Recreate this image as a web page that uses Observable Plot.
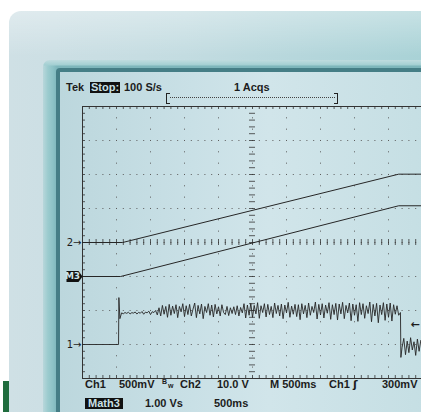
<!DOCTYPE html>
<html><head><meta charset="utf-8">
<script src="https://cdn.jsdelivr.net/npm/d3@7"></script>
<script src="https://cdn.jsdelivr.net/npm/@observablehq/plot@0.6"></script>
<style>
html,body{margin:0;padding:0;background:#fff;}
#wrap{position:relative;width:421px;height:412px;overflow:hidden;background:#fff;font-family:"Liberation Sans",Arial,sans-serif;}
.abs{position:absolute;}
#bezel{left:9px;top:11px;width:440px;height:420px;border-radius:12px 0 0 0;background:linear-gradient(180deg,rgba(255,255,255,.35) 0,rgba(255,255,255,0) 45px),linear-gradient(90deg,#cfe0e5 0,#c3dce1 40%,#b4d6db 70%,#a6d1d5 100%);}
#frame{left:43px;top:60px;width:400px;height:370px;border-radius:7px 0 0 0;background:linear-gradient(180deg,#bfdcdf 0,#a3cfd2 5px,rgba(0,0,0,0) 6px),linear-gradient(90deg,#b8d7db 0,#9bcbce 5px,#8cc2c6 10px,#7db6bb 14px);}
#edge{left:56px;top:68px;width:400px;height:360px;border-radius:4px 0 0 0;background:#457e86;}
#screen{left:60px;top:72px;width:380px;height:360px;background:linear-gradient(90deg,#bcd7dd 0,#c9e0e6 35%,#d1e5ea 55%,#c4dee3 100%);}
#green{left:3px;top:381px;width:6px;height:31px;background:#1f6c3d;}
#plot{position:absolute;left:0;top:0;}
.t{position:absolute;font-weight:bold;font-size:11px;line-height:11px;color:#1c1c1c;white-space:pre;}
.inv{background:#111;color:#c9e0e5;padding:0 1px;}
.brk{position:absolute;top:93px;width:3px;height:9px;border-top:1px solid #222;border-bottom:1px solid #222;}
</style>
</head>
<body>
<div id="wrap">
  <div id="bezel" class="abs"></div>
  <div id="frame" class="abs"></div>
  <div id="edge" class="abs"></div>
  <div id="screen" class="abs"></div>
  <div id="green" class="abs"></div>
  <div id="plot"></div>
  <!-- readouts -->
  <div class="t" style="left:66px;top:82px">Tek</div>
  <div class="t inv" style="left:90px;top:82px">Stop:</div>
  <div class="t" style="left:124px;top:82px">100 S/s</div>
  <div class="t" style="left:234px;top:82px">1 Acqs</div>
  <div class="brk" style="left:166px;border-left:1.5px solid #222"></div>
  <div class="abs" style="left:170px;top:97px;width:165px;border-top:1px dotted #444"></div>
  <div class="brk" style="left:334px;border-right:1.5px solid #222"></div>

  <div class="t" style="left:85px;top:379px">Ch1</div>
  <div class="t" style="left:119px;top:379px">500mV</div>
  <div class="t" style="left:162px;top:378px;font-size:7px;line-height:7px">B</div>
  <div class="t" style="left:168px;top:382px;font-size:7px;line-height:7px">w</div>
  <div class="t" style="left:180px;top:379px">Ch2</div>
  <div class="t" style="left:217px;top:379px">10.0 V</div>
  <div class="t" style="left:270px;top:379px">M 500ms</div>
  <div class="t" style="left:329px;top:379px">Ch1</div>
  <div class="t" style="left:353px;top:379px;font-family:'DejaVu Sans'">ʃ</div>
  <div class="t" style="left:382px;top:379px">300mV</div>

  <div class="t inv" style="left:85px;top:398px;padding:0 3px">Math3</div>
  <div class="t" style="left:145px;top:398px">1.00 Vs</div>
  <div class="t" style="left:214px;top:398px">500ms</div>
</div>
<script>
// ---- scope settings ----
const secPerDiv = 0.5;          // M 500ms
const ch1VoltsPerDiv = 0.5;     // Ch1 500mV
const ch2VoltsPerDiv = 10;      // Ch2 10.0 V
const m3VsPerDiv = 1;           // Math3 1.00 Vs
const ch1Offset = -3, ch2Offset = 0, m3Offset = -1; // marker positions (divisions)
const ch1TriggerMv = 300;

// ---- Ch2 (upper ramp) ----
const ch2Time = [0, 0.59, 4.65, 5.0];
const ch2Volts = [0, 0, 20.1, 20.1];

// ---- Math3 (lower ramp) ----
const m3Time = [0, 0.56, 4.65, 5.0];
const m3Vs = [0, 0, 2.08, 2.08];

// ---- Ch1 (noisy step) ----
const ch1StepTime = [0, 0.53, 0.535, 0.55];
const ch1StepMv = [0, 0, 690, 380];
const ch1HighStart = 0.575, ch1SampleStep = 0.025;
const ch1HighMv = [
  465, 452, 470, 458, 474, 450, 468, 462, 478, 448, 472, 460, 485, 445, 476, 466, 490, 440, 482, 470, 500, 435,
  540, 420, 575, 445, 560, 400, 590, 430, 565, 455,
  585, 395, 560, 480, 600, 410, 570, 440, 590, 420,
  520, 610, 395, 575, 450, 595, 380, 560, 470, 600,
  430, 580, 405, 590, 450, 555, 420, 585, 470, 440,
  560, 425, 540, 455, 555, 440, 570, 420, 545, 465,
  600, 390, 580, 430, 605, 400, 575, 450, 615, 385,
  570, 470, 600, 405, 590, 440, 560, 395, 610, 455,
  575, 420, 595, 380, 580, 465, 620, 400, 565, 445,
  590, 410, 585, 365, 600, 450, 575, 395, 610, 430,
  560, 470, 625, 375, 590, 435, 600, 390, 580, 460,
  615, 370, 585, 440, 605, 360, 595, 450, 620, 380,
  575, 465, 610, 350, 595, 430, 585, 340, 615, 440,
  600, 385, 570, 455, 625, 335, 590, 420, 605, 320,
  580, 440, 615, 355, 595, 400, 610, 345, 585, 445, 570, 430
];
const ch1DropTime = [4.676, 4.682];
const ch1DropMv = [470, -190];
const ch1LowStart = 4.70;
const ch1LowMv = [-40, 90, -150, 50, -120, 100, -80, 40, -160, 80, -100, 60];

// ---- build tables ----
const ch2Data = ch2Time.map((t, i) => ({t, div: ch2Offset + ch2Volts[i] / ch2VoltsPerDiv}));
const m3Data = m3Time.map((t, i) => ({t, div: m3Offset + m3Vs[i] / m3VsPerDiv}));
const ch1Data = [
  ...ch1StepTime.map((t, i) => ({t, mv: ch1StepMv[i]})),
  ...ch1HighMv.map((mv, i) => ({t: ch1HighStart + i * ch1SampleStep, mv})),
  ...ch1DropTime.map((t, i) => ({t, mv: ch1DropMv[i]})),
  ...ch1LowMv.map((mv, i) => ({t: ch1LowStart + i * ch1SampleStep, mv}))
].map(d => ({t: d.t, div: ch1Offset + d.mv / 1000 / ch1VoltsPerDiv}));

// ---- screen geometry (graticule: 10 x 8 divisions, 34 px per division) ----
const W = 421, H = 412, pxPerDiv = 34, leftPx = 82, centerPx = 242;
const xDomain = [-leftPx / pxPerDiv * secPerDiv, (W - leftPx) / pxPerDiv * secPerDiv];
const yDomain = [(centerPx - H) / pxPerDiv, centerPx / pxPerDiv];

const fullT = 10 * secPerDiv;
const majorT = d3.range(1, 10).map(i => i * secPerDiv);
const majorY = [-3, -2, -1, 0, 1, 2, 3];
const minorT = d3.range(0, 51).map(i => i * secPerDiv / 5);
const minorY = d3.range(-20, 21).map(i => i / 5);
const tickDiv = 3 / pxPerDiv;
const tickT = tickDiv * secPerDiv;
const centerT = 5 * secPerDiv;
const gridInk = "#333", dotInk = "#5c5c5c", traceInk = "#262626";

const tagSymbol = {
  draw(ctx) {
    ctx.moveTo(-16, -5.5); ctx.lineTo(-4, -5.5); ctx.lineTo(0, 0);
    ctx.lineTo(-4, 5.5); ctx.lineTo(-16, 5.5); ctx.closePath();
  }
};

const chart = Plot.plot({
  width: W, height: H, margin: 0,
  x: {domain: xDomain, axis: null},
  y: {domain: yDomain, axis: null},
  style: {background: "transparent", overflow: "visible", fontFamily: "DejaVu Sans"},
  marks: [
    // dotted grid
    Plot.ruleX(majorT, {y1: 4, y2: -4, stroke: dotInk, strokeWidth: 1, strokeDasharray: "1,10.33"}),
    Plot.ruleY(majorY, {x1: 0, x2: fullT, stroke: dotInk, strokeWidth: 1, strokeDasharray: "1,5.8"}),
    // solid frame
    Plot.ruleX([0], {y1: 4, y2: -4, stroke: gridInk, strokeWidth: 1}),
    Plot.ruleY([4, -4], {x1: 0, x2: fullT, stroke: gridInk, strokeWidth: 1}),
    // minor ticks
    Plot.ruleX(minorT, {y1: 4, y2: 4 - tickDiv, stroke: gridInk, strokeWidth: 0.8}),
    Plot.ruleX(minorT, {y1: -4, y2: -4 + tickDiv, stroke: gridInk, strokeWidth: 0.8}),
    Plot.ruleX(minorT, {y1: -tickDiv, y2: tickDiv, stroke: gridInk, strokeWidth: 0.8}),
    Plot.ruleY(minorY, {x1: 0, x2: tickT, stroke: gridInk, strokeWidth: 0.8}),
    Plot.ruleY(minorY, {x1: centerT - tickT, x2: centerT + tickT, stroke: gridInk, strokeWidth: 0.8}),
    // traces
    Plot.line(ch2Data, {x: "t", y: "div", stroke: traceInk, strokeWidth: 1}),
    Plot.line(m3Data, {x: "t", y: "div", stroke: traceInk, strokeWidth: 1}),
    Plot.line(ch1Data, {x: "t", y: "div", stroke: traceInk, strokeWidth: 0.9}),
    // channel markers
    Plot.text([ch2Offset, ch1Offset], {x: 0, y: d => d, text: d => (d === ch2Offset ? "2" : "1") + "→",
      textAnchor: "end", dx: -1, fontSize: 10, fill: "#1c1c1c"}),
    Plot.dot([m3Offset], {x: 0, y: d => d, symbol: tagSymbol, r: 5, fill: "#111", stroke: "none"}),
    Plot.text([m3Offset], {x: 0, y: d => d, text: () => "M3", dx: -10, fontSize: 9, fontWeight: "bold",
      fill: "#cfe3e8"}),
    // trigger level marker
    Plot.text([ch1TriggerMv], {x: fullT, y: d => ch1Offset + d / 1000 / ch1VoltsPerDiv, text: () => "←",
      textAnchor: "start", dx: -12, fontSize: 11, fontWeight: "bold", fill: "#1c1c1c"})
  ]
});
document.getElementById("plot").appendChild(chart);
</script>
</body></html>
